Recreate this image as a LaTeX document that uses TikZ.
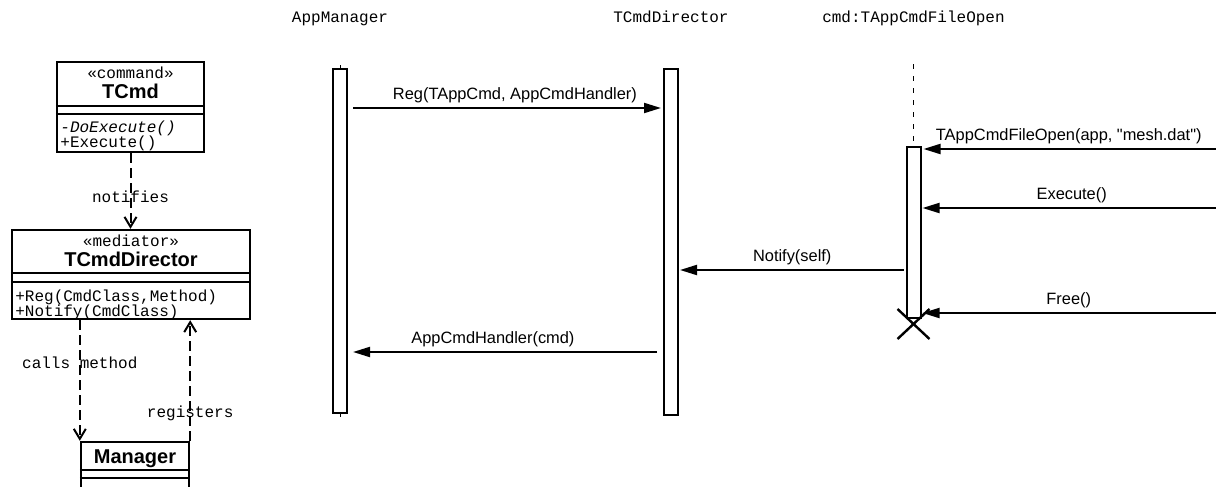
\documentclass[tikz,border=0pt]{standalone}
\usepackage{fontspec}
\setmainfont{Liberation Sans}
\setmonofont{Liberation Mono}
\usetikzlibrary{arrows.meta,calc}

\begin{document}
\begin{tikzpicture}[
  x=0.5pt, y=-0.5pt,
  cls/.style={draw, line width=1.2pt, inner sep=0pt},
  stereo/.style={font=\ttfamily\fontsize{8}{9}\selectfont, anchor=base, inner sep=0pt},
  clsname/.style={font=\bfseries\fontsize{10}{11}\selectfont, anchor=base, inner sep=0pt},
  meth/.style={font=\ttfamily\fontsize{8}{9}\selectfont, anchor=base west, inner sep=0pt},
  dep/.style={dashed, dash pattern=on 5pt off 2.5pt, line width=1pt, -{Straight Barb[length=5pt, width=6pt]}},
  depl/.style={font=\ttfamily\fontsize{8}{9}\selectfont, inner sep=0pt},
  objl/.style={font=\ttfamily\fontsize{8}{9}\selectfont, anchor=base, inner sep=0pt},
  bar/.style={draw, fill=white, line width=1pt, minimum width=7pt, inner sep=0pt},
  msg/.style={line width=1pt, -{Triangle[length=8.5pt, width=5pt]}},
  lbl/.style={font=\fontsize{8.2}{9}\selectfont, inner sep=0pt, above=2.2pt}
]
\useasboundingbox (0,0) rectangle (1216,487);

\node[cls, minimum width=73.5pt, minimum height=45pt] (tcmd) at (130.5,107) {};
\node[stereo] (tcmdst) at (130.5,78) {«command»};
\node[clsname] (tcmdnm) at (130.5,98) {TCmd};
\draw[cls] (tcmd.west |- 0,106) -- (tcmd.east |- 0,106);
\draw[cls] (tcmd.west |- 0,114) -- (tcmd.east |- 0,114);
\node[meth] (tcmdm1) at (60,132) {\itshape -DoExecute()};
\node[meth] (tcmdm2) at (60,147) {+Execute()};

\node[cls, minimum width=119pt, minimum height=44.5pt] (tdir) at (131,274.5) {};
\node[stereo] (tdirst) at (131,246) {«mediator»};
\node[clsname] (tdirnm) at (131,266) {TCmdDirector};
\draw[cls] (tdir.west |- 0,273) -- (tdir.east |- 0,273);
\draw[cls] (tdir.west |- 0,282) -- (tdir.east |- 0,282);
\node[meth] (tdirm1) at (15,301) {+Reg(CmdClass,Method)};
\node[meth] (tdirm2) at (15,316) {+Notify(CmdClass)};

\node[cls, minimum width=54pt, minimum height=25pt] (mgr) at (135,467) {};
\node[clsname] (mgrnm) at (135,463) {Manager};
\draw[cls] (mgr.west |- 0,470) -- (mgr.east |- 0,470);
\draw[cls] (mgr.west |- 0,478) -- (mgr.east |- 0,478);
\draw[cls] (mgr.south west) -- ++(0,10);
\draw[cls] (mgr.south east) -- ++(0,10);

\draw[dep] (tcmd.south) -- (tcmd.south |- tdir.north) node[depl, pos=0.58] {notifies};
\draw[dep] (tdir.south -| mgr.north west) -- (mgr.north west) node[depl, pos=0.35] {calls method};
\draw[dep] (mgr.north east) -- (mgr.north east |- tdir.south) node[depl, pos=0.23] {registers};

\node[objl] (amgrl) at (340,23) {AppManager};
\node[objl] (tdirl) at (671,23) {TCmdDirector};
\node[objl] (cmdl) at (913.5,23) {cmd:TAppCmdFileOpen};

\node[bar, minimum height=172pt] (amgr) at (340,241) {};
\node[bar, minimum height=173pt] (tdirb) at (671,242) {};
\node[bar, minimum height=85.5pt] (cmd) at (913.5,232.5) {};
\draw[line width=0.5pt] (amgr.north) -- ++(0,-3);
\draw[line width=0.5pt] (amgr.south) -- ++(0,3);

\coordinate (cmdtop) at (913.5,64);
\draw[line width=0.6pt, dash pattern=on 2.5pt off 3.5pt] (cmdtop) -- (cmd.north);
\draw[line width=1.2pt] ($(cmd.south)+(-16,-10)$) -- ($(cmd.south)+(16,20)$);
\draw[line width=1.2pt] ($(cmd.south)+(-16,20)$) -- ($(cmd.south)+(16,-10)$);

\coordinate (in1) at (1216,149);
\coordinate (in2) at (1216,208);
\coordinate (in3) at (1216,313);

\draw[msg, shorten <=2.5pt, shorten >=1pt] (amgr.east |- 0,108) -- (tdirb.west |- 0,108)
  node[lbl, pos=0.53] {Reg(TAppCmd, AppCmdHandler)};
\draw[msg, shorten >=1pt] (in1) -- (cmd.east |- in1)
  node[lbl, pos=0.5] {TAppCmdFileOpen(app, \textquotedbl mesh.dat\textquotedbl)};
\draw[msg, shorten >=0.5pt] (in2) -- (cmd.east |- in2)
  node[lbl, pos=0.49] {Execute()};
\draw[msg, shorten <=1pt, shorten >=0.5pt] (cmd.west |- 0,270) -- (tdirb.east |- 0,270)
  node[lbl, pos=0.5] {Notify(self)};
\draw[msg, shorten >=0.5pt] (in3) -- (cmd.east |- in3)
  node[lbl, pos=0.5] {Free()};
\draw[msg, shorten <=3pt, shorten >=2.5pt] (tdirb.west |- 0,352) -- (amgr.east |- 0,352)
  node[lbl, pos=0.54] {AppCmdHandler(cmd)};
\end{tikzpicture}
\end{document}
